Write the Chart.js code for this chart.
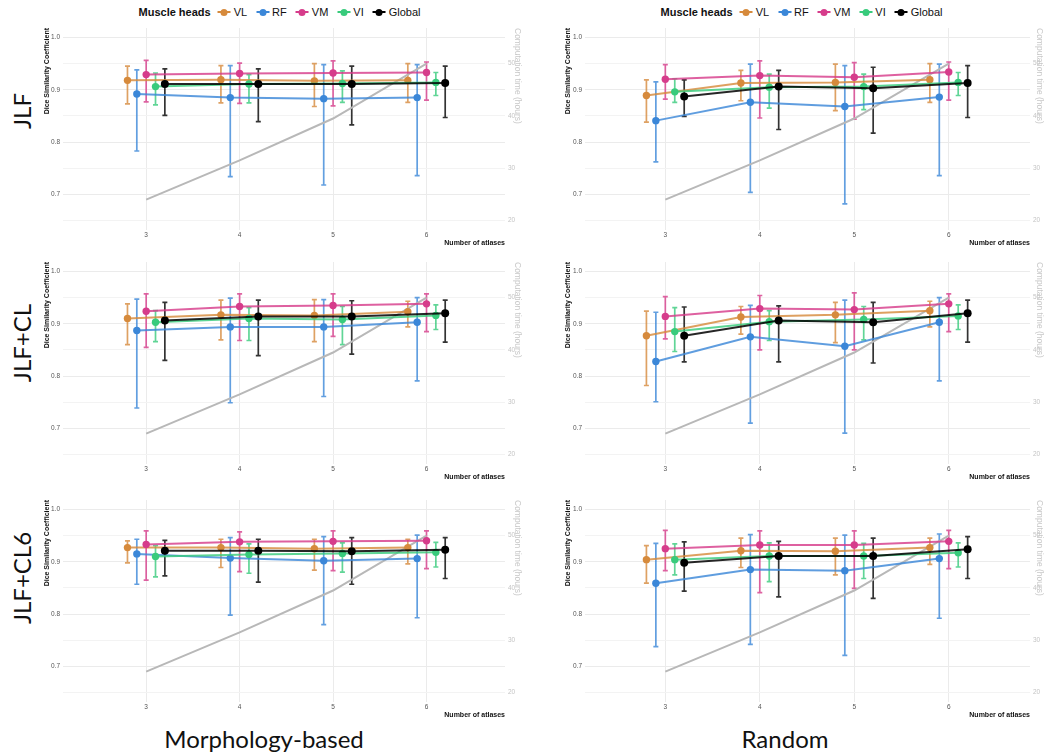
<!DOCTYPE html>
<html>
<head>
<meta charset="utf-8">
<script src="https://cdn.jsdelivr.net/npm/chart.js@4.4.1/dist/chart.umd.min.js"></script>
<style>
  html, body { margin: 0; padding: 0; background: #fff; }
  #page { position: relative; width: 1044px; height: 753px; overflow: hidden; font-family: "Liberation Sans", Arial, sans-serif; }
  #page canvas { position: absolute; }
  .row-label { position: absolute; font-family: Lato, "Open Sans", sans-serif; font-size: 24px; color: #111; white-space: nowrap; transform: translate(-50%, -50%) rotate(-90deg); }
  .col-label { position: absolute; font-family: Lato, "Open Sans", sans-serif; font-size: 24px; color: #111; white-space: nowrap; transform: translate(-50%, -50%); }
  .legend { position: absolute; display: flex; align-items: center; font-size: 11px; color: #111; white-space: nowrap; transform: translate(-50%, -50%); }
  .legend .ttl { font-weight: bold; margin-right: 7px; }
  .legend .key { position: relative; width: 13px; height: 10px; margin-right: 3px; }
  .legend .key i { position: absolute; left: 0; right: 0; top: 4px; height: 2px; }
  .legend .key b { position: absolute; left: 3px; top: 1.5px; width: 7px; height: 7px; border-radius: 50%; }
  .legend .lab { margin-right: 9px; }
</style>
</head>
<body>
<div id="page">
  <canvas id="jlf-morph"></canvas>
  <canvas id="jlf-random"></canvas>
  <canvas id="jlfcl-morph"></canvas>
  <canvas id="jlfcl-random"></canvas>
  <canvas id="jlfcl6-morph"></canvas>
  <canvas id="jlfcl6-random"></canvas>
</div>
<script>
// ---------------------------------------------------------------------------
// data
// ---------------------------------------------------------------------------
const atlases = [3, 4, 5, 6];
const heads = ['VL', 'RF', 'VM', 'VI', 'Global'];
const yTicks = [0.65, 0.7, 0.75, 0.8, 0.85, 0.9, 0.95, 1.0];
const hourTicks = [20, 30, 40, 50];
const computeHours = [24, 31.5, 39.5, 50];

// rows in each array follow heads: VL, RF, VM, VI, Global
const jlfMorphMean = [
    [0.918, 0.919, 0.917, 0.918],
    [0.892, 0.885, 0.883, 0.885],
    [0.929, 0.931, 0.932, 0.933],
    [0.906, 0.911, 0.912, 0.914],
    [0.911, 0.911, 0.911, 0.913]
];
const jlfMorphLow = [
    [0.873, 0.875, 0.868, 0.876],
    [0.783, 0.734, 0.718, 0.736],
    [0.877, 0.874, 0.869, 0.880],
    [0.871, 0.875, 0.876, 0.889],
    [0.851, 0.839, 0.833, 0.847]
];
const jlfMorphHigh = [
    [0.945, 0.946, 0.950, 0.950],
    [0.938, 0.946, 0.948, 0.948],
    [0.956, 0.951, 0.955, 0.953],
    [0.932, 0.929, 0.936, 0.933],
    [0.940, 0.940, 0.945, 0.945]
];

const jlfRandomMean = [
    [0.889, 0.913, 0.914, 0.919],
    [0.841, 0.876, 0.868, 0.886],
    [0.920, 0.927, 0.924, 0.934],
    [0.896, 0.905, 0.906, 0.914],
    [0.887, 0.906, 0.903, 0.913]
];
const jlfRandomLow = [
    [0.838, 0.879, 0.860, 0.876],
    [0.762, 0.704, 0.682, 0.736],
    [0.882, 0.846, 0.844, 0.880],
    [0.876, 0.865, 0.862, 0.889],
    [0.849, 0.824, 0.817, 0.847]
];
const jlfRandomHigh = [
    [0.919, 0.937, 0.949, 0.950],
    [0.915, 0.949, 0.946, 0.949],
    [0.948, 0.955, 0.952, 0.953],
    [0.921, 0.930, 0.930, 0.933],
    [0.919, 0.937, 0.943, 0.946]
];

const jlfclMorphMean = [
    [0.910, 0.917, 0.916, 0.923],
    [0.887, 0.894, 0.894, 0.903],
    [0.924, 0.933, 0.935, 0.938],
    [0.903, 0.910, 0.908, 0.916],
    [0.906, 0.914, 0.914, 0.920]
];
const jlfclMorphLow = [
    [0.860, 0.869, 0.866, 0.894],
    [0.739, 0.749, 0.761, 0.791],
    [0.855, 0.868, 0.876, 0.885],
    [0.866, 0.868, 0.860, 0.889],
    [0.830, 0.839, 0.842, 0.865]
];
const jlfclMorphHigh = [
    [0.938, 0.945, 0.946, 0.943],
    [0.947, 0.949, 0.946, 0.950],
    [0.957, 0.957, 0.957, 0.957],
    [0.925, 0.931, 0.933, 0.936],
    [0.941, 0.945, 0.944, 0.945]
];

const jlfclRandomMean = [
    [0.877, 0.913, 0.917, 0.925],
    [0.828, 0.875, 0.857, 0.903],
    [0.914, 0.929, 0.927, 0.938],
    [0.885, 0.904, 0.908, 0.915],
    [0.877, 0.906, 0.903, 0.920]
];
const jlfclRandomLow = [
    [0.782, 0.880, 0.864, 0.894],
    [0.751, 0.710, 0.691, 0.791],
    [0.871, 0.850, 0.850, 0.885],
    [0.847, 0.868, 0.869, 0.889],
    [0.827, 0.827, 0.825, 0.865]
];
const jlfclRandomHigh = [
    [0.924, 0.933, 0.941, 0.943],
    [0.922, 0.935, 0.945, 0.950],
    [0.952, 0.954, 0.959, 0.957],
    [0.931, 0.925, 0.933, 0.936],
    [0.932, 0.934, 0.941, 0.945]
];

const jlfcl6MorphMean = [
    [0.927, 0.927, 0.925, 0.927],
    [0.915, 0.907, 0.902, 0.906],
    [0.933, 0.938, 0.939, 0.940],
    [0.910, 0.914, 0.916, 0.918],
    [0.921, 0.921, 0.920, 0.923]
];
const jlfcl6MorphLow = [
    [0.898, 0.889, 0.884, 0.896],
    [0.857, 0.798, 0.780, 0.793],
    [0.865, 0.881, 0.883, 0.887],
    [0.871, 0.878, 0.880, 0.890],
    [0.873, 0.861, 0.857, 0.868]
];
const jlfcl6MorphHigh = [
    [0.940, 0.943, 0.943, 0.943],
    [0.943, 0.946, 0.948, 0.951],
    [0.959, 0.957, 0.959, 0.959],
    [0.931, 0.934, 0.936, 0.937],
    [0.941, 0.943, 0.946, 0.946]
];

const jlfcl6RandomMean = [
    [0.904, 0.921, 0.920, 0.927],
    [0.859, 0.885, 0.883, 0.906],
    [0.925, 0.932, 0.932, 0.939],
    [0.904, 0.911, 0.911, 0.917],
    [0.898, 0.911, 0.911, 0.924]
];
const jlfcl6RandomLow = [
    [0.859, 0.889, 0.875, 0.895],
    [0.738, 0.742, 0.721, 0.792],
    [0.883, 0.841, 0.849, 0.887],
    [0.875, 0.862, 0.868, 0.890],
    [0.844, 0.833, 0.830, 0.868]
];
const jlfcl6RandomHigh = [
    [0.931, 0.945, 0.945, 0.945],
    [0.935, 0.952, 0.951, 0.953],
    [0.960, 0.959, 0.959, 0.960],
    [0.934, 0.936, 0.935, 0.936],
    [0.938, 0.939, 0.945, 0.948]
];

// ---------------------------------------------------------------------------
// look & layout
// ---------------------------------------------------------------------------
const headColors = ['#d68a3c', '#3b87d8', '#d63c8b', '#38cb7c', '#000000'];
const errColors = ['rgba(214,138,60,0.8)', 'rgba(59,135,216,0.8)', 'rgba(214,60,139,0.8)', 'rgba(56,203,124,0.8)', 'rgba(0,0,0,0.8)'];
const dodge = 0.1;
const Y_MIN = 0.632, Y_MAX = 1.018;
const toHours = v => 20 + (v - 0.65) * 100;   // secondary axis: 0.65 <-> 20 h, 0.95 <-> 50 h

const rowTop = [18, 252, 490];
const cols = [
    { left: 43, width: 479, axisL: 20, axisR: 17, xMin: 2.11, xMax: 6.84 },
    { left: 564, width: 480, axisL: 21, axisR: 14, xMin: 2.15, xMax: 6.86 }
];
const CANVAS_H = 232;

const panels = [
    { id: 'jlf-morph', row: 0, col: 0, mean: jlfMorphMean, low: jlfMorphLow, high: jlfMorphHigh },
    { id: 'jlf-random', row: 0, col: 1, mean: jlfRandomMean, low: jlfRandomLow, high: jlfRandomHigh },
    { id: 'jlfcl-morph', row: 1, col: 0, mean: jlfclMorphMean, low: jlfclMorphLow, high: jlfclMorphHigh },
    { id: 'jlfcl-random', row: 1, col: 1, mean: jlfclRandomMean, low: jlfclRandomLow, high: jlfclRandomHigh },
    { id: 'jlfcl6-morph', row: 2, col: 0, mean: jlfcl6MorphMean, low: jlfcl6MorphLow, high: jlfcl6MorphHigh },
    { id: 'jlfcl6-random', row: 2, col: 1, mean: jlfcl6RandomMean, low: jlfcl6RandomLow, high: jlfcl6RandomHigh }
];

const FONT = '"Liberation Sans", Arial, sans-serif';

// error bars with caps, drawn under lines and points
const errorBars = {
    id: 'errorBars',
    beforeDatasetsDraw(chart) {
        const { ctx, scales: { x, y } } = chart;
        chart.data.datasets.forEach(ds => {
            if (!ds.errColor) return;
            ctx.save();
            ctx.strokeStyle = ds.errColor;
            ctx.lineWidth = 1.7;
            ds.data.forEach(pt => {
                const px = x.getPixelForValue(pt.x);
                const top = y.getPixelForValue(pt.hi);
                const bot = y.getPixelForValue(pt.lo);
                ctx.beginPath();
                ctx.moveTo(px, top); ctx.lineTo(px, bot);
                ctx.moveTo(px - 2.5, top); ctx.lineTo(px + 2.5, top);
                ctx.moveTo(px - 2.5, bot); ctx.lineTo(px + 2.5, bot);
                ctx.stroke();
            });
            ctx.restore();
        });
    }
};

function buildPanel(p) {
    const c = cols[p.col];
    const canvas = document.getElementById(p.id);
    canvas.width = c.width;
    canvas.height = CANVAS_H;
    canvas.style.left = c.left + 'px';
    canvas.style.top = rowTop[p.row] + 'px';

    const datasets = heads.map((name, i) => ({
        label: name,
        data: atlases.map((a, j) => ({
            x: a + (i - 2) * dodge,
            y: p.mean[i][j],
            lo: p.low[i][j],
            hi: p.high[i][j]
        })),
        borderColor: i === 4 ? 'rgba(0,0,0,0.85)' : headColors[i] + 'd0',
        backgroundColor: headColors[i],
        pointBackgroundColor: headColors[i],
        pointBorderColor: headColors[i],
        borderWidth: 2,
        pointRadius: i === 4 ? 4 : 3.7,
        pointBorderWidth: 0,
        errColor: errColors[i],
        yAxisID: 'y',
        order: 4 - i
    }));
    datasets.push({
        label: 'Computation time',
        data: atlases.map((a, j) => ({ x: a, y: computeHours[j] })),
        borderColor: '#b8b8b8',
        borderWidth: 2,
        pointRadius: 0,
        yAxisID: 'y2',
        order: 10
    });

    const tickFont = { family: FONT, size: 6.5 };
    const titleFont = { family: FONT, size: 7, weight: 'bold' };

    new Chart(canvas, {
        type: 'line',
        data: { datasets },
        plugins: [errorBars],
        options: {
            responsive: false,
            animation: false,
            devicePixelRatio: 1,
            layout: { padding: { top: 10, bottom: 0, left: 0, right: 0 } },
            plugins: { legend: { display: false }, tooltip: { enabled: false } },
            scales: {
                x: {
                    type: 'linear',
                    min: c.xMin, max: c.xMax,
                    afterBuildTicks: s => { s.ticks = atlases.map(v => ({ value: v })); },
                    afterFit: s => { s.height = 20; },
                    grid: { color: '#ebebeb', lineWidth: 1, drawTicks: false },
                    border: { display: false },
                    ticks: { font: tickFont, color: '#555', padding: 1, maxRotation: 0 },
                    title: { display: true, text: 'Number of atlases', align: 'end', font: titleFont, color: '#111', padding: { top: 0, bottom: 3 } }
                },
                y: {
                    position: 'left',
                    min: Y_MIN, max: Y_MAX,
                    afterBuildTicks: s => { s.ticks = yTicks.map(v => ({ value: v })); },
                    afterFit: s => { s.width = c.axisL; },
                    grid: {
                        color: ctx => (Math.round(ctx.tick.value * 100) % 10 === 0 ? '#ebebeb' : '#f3f3f3'),
                        lineWidth: 1, drawTicks: false
                    },
                    border: { display: false },
                    ticks: {
                        font: tickFont, color: '#555', padding: 3,
                        callback: v => (Math.round(v * 100) % 10 === 0 ? v.toFixed(1) : '')
                    },
                    title: { display: true, text: 'Dice Similarity Coefficient', align: 'end', font: titleFont, color: '#111', padding: 0 }
                },
                y2: {
                    position: 'right',
                    min: toHours(Y_MIN), max: toHours(Y_MAX),
                    afterBuildTicks: s => { s.ticks = hourTicks.map(v => ({ value: v })); },
                    afterFit: s => { s.width = c.axisR; },
                    grid: { display: false, drawTicks: false },
                    border: { display: false },
                    ticks: { font: tickFont, color: '#c4c4c4', padding: 3 },
                    title: { display: true, text: 'Computation time (hours)', align: 'end', font: { family: FONT, size: 8.5 }, color: '#c8c8c8', padding: 0 }
                }
            }
        }
    });
}

panels.forEach(buildPanel);

// ---------------------------------------------------------------------------
// legends, row and column labels
// ---------------------------------------------------------------------------
const page = document.getElementById('page');

function addLegend(cx) {
    const lg = document.createElement('div');
    lg.className = 'legend';
    lg.style.left = cx + 'px';
    lg.style.top = '12px';
    let html = '<span class="ttl">Muscle heads</span>';
    heads.forEach((h, i) => {
        html += `<span class="key"><i style="background:${headColors[i]}"></i><b style="background:${headColors[i]}"></b></span><span class="lab">${h}</span>`;
    });
    lg.innerHTML = html;
    page.appendChild(lg);
}
addLegend(284);
addLegend(806);

const rowLabels = ['JLF', 'JLF+CL', 'JLF+CL6'];
const rowLabelY = [111, 343, 578];
rowLabels.forEach((t, i) => {
    const d = document.createElement('div');
    d.className = 'row-label';
    d.textContent = t;
    d.style.left = '21px';
    d.style.top = rowLabelY[i] + 'px';
    page.appendChild(d);
});

const colLabels = ['Morphology-based', 'Random'];
const colLabelX = [264, 785];
colLabels.forEach((t, i) => {
    const d = document.createElement('div');
    d.className = 'col-label';
    d.textContent = t;
    d.style.left = colLabelX[i] + 'px';
    d.style.top = '738px';
    page.appendChild(d);
});
</script>
</body>
</html>
